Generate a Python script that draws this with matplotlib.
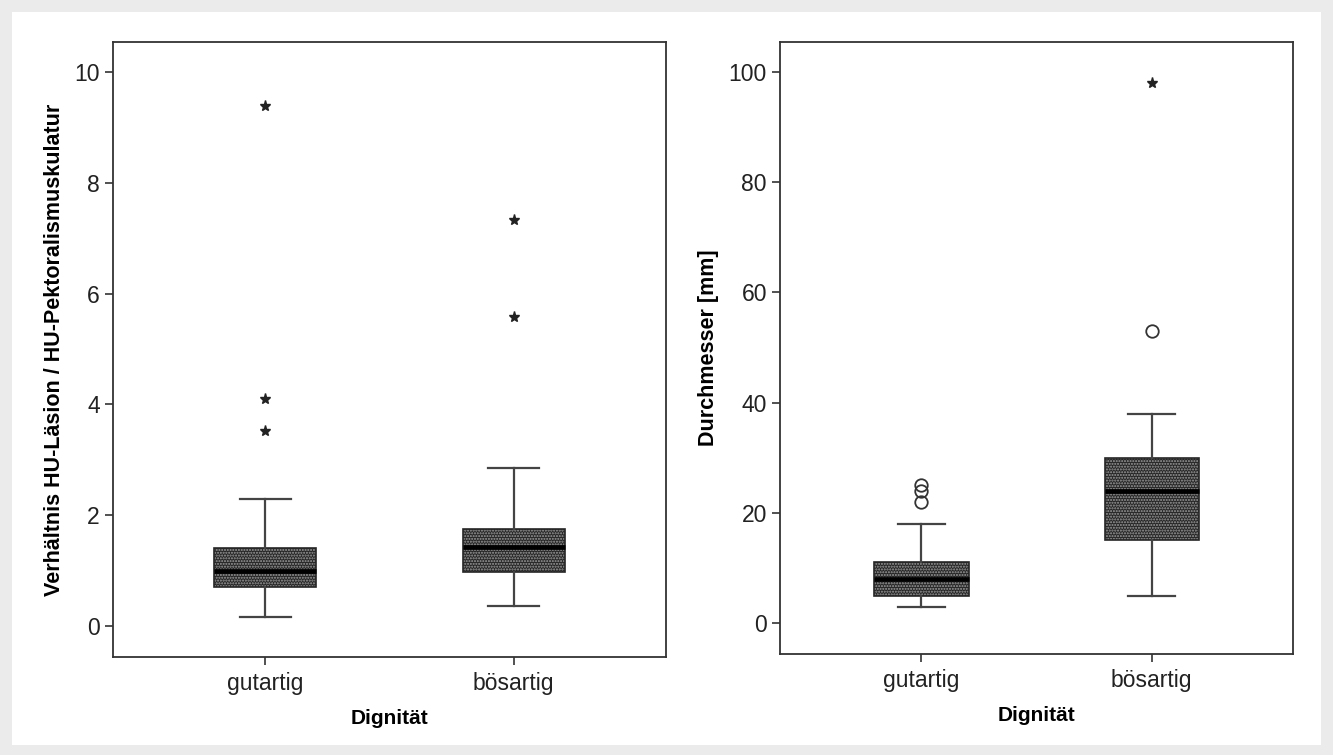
import numpy as np
import matplotlib
matplotlib.use("Agg")
from matplotlib import pyplot as plt
from matplotlib.patches import Rectangle

plt.rcParams['font.family'] = ['Liberation Sans', 'DejaVu Sans']

groups = ["gutartig", "bösartig"]

# left panel: ratio HU lesion / HU pectoralis
ratio_low = [0.17, 0.36]
ratio_q1 = [0.70, 0.97]
ratio_med = [1.00, 1.43]
ratio_q3 = [1.40, 1.75]
ratio_high = [2.29, 2.85]
ratio_circles = [[], []]
ratio_stars = [[9.39, 4.10, 3.52], [7.33, 5.58]]

# right panel: diameter in mm
diam_low = [3, 5]
diam_q1 = [5, 15]
diam_med = [8, 24]
diam_q3 = [11, 30]
diam_high = [18, 38]
diam_circles = [[22, 24, 25], [53]]
diam_stars = [[], [98]]


def draw_panel(ax, low, q1, med, q3, high, circles, stars):
    stats = []
    for i in range(len(groups)):
        stats.append(dict(whislo=low[i], q1=q1[i], med=med[i], q3=q3[i],
                          whishi=high[i], fliers=[], label=groups[i]))
    pos = [1, 2]
    bp = ax.bxp(stats, positions=pos, widths=0.41, patch_artist=True,
                showfliers=False,
                boxprops=dict(facecolor='#262626', edgecolor='#262626',
                              linewidth=1.2, hatch='......'),
                whiskerprops=dict(color='#444444', linewidth=1.6),
                capprops=dict(color='#444444', linewidth=1.6),
                medianprops=dict(color='black', linewidth=3.4))
    for b in bp['boxes']:
        b._hatch_color = (0.62, 0.62, 0.62, 1.0)
    for i, p in enumerate(pos):
        if circles[i]:
            ax.plot([p] * len(circles[i]), circles[i], 'o', mfc='none',
                    mec='#333333', ms=9, mew=1.3)
        if stars[i]:
            ax.plot([p] * len(stars[i]), stars[i], '*', color='#222222', ms=8)
    ax.set_xlim(0.387, 2.613)
    ax.set_xticks(pos)
    ax.set_xticklabels(groups)
    ax.tick_params(axis='both', labelsize=16.5, length=6, width=1.2,
                   color='#333333', labelcolor='#222222', direction='out')
    ax.tick_params(axis='x', pad=5)
    for s in ax.spines.values():
        s.set_color('#333333')
        s.set_linewidth(1.3)
    ax.set_xlabel("Dignität", fontsize=15, fontweight='bold', labelpad=10)


fig = plt.figure(figsize=(13.33, 7.55), dpi=100, facecolor='#ebebeb')
fig.patches.append(Rectangle((12 / 1333, 10 / 755), 1309 / 1333, 733 / 755,
                             transform=fig.transFigure, facecolor='white',
                             edgecolor='none', zorder=-10))

ax1 = fig.add_axes([0.0848, 0.1298, 0.4149, 0.8146])
draw_panel(ax1, ratio_low, ratio_q1, ratio_med, ratio_q3, ratio_high,
           ratio_circles, ratio_stars)
ax1.set_ylim(-0.56, 10.54)
ax1.set_yticks([0, 2, 4, 6, 8, 10])
ax1.set_ylabel("Verhältnis HU-Läsion / HU-Pektoralismuskulatur",
               fontsize=15.5, fontweight='bold', labelpad=7)

ax2 = fig.add_axes([0.5852, 0.1338, 0.3848, 0.8106])
draw_panel(ax2, diam_low, diam_q1, diam_med, diam_q3, diam_high,
           diam_circles, diam_stars)
ax2.set_ylim(-5.6, 105.4)
ax2.set_yticks([0, 20, 40, 60, 80, 100])
ax2.set_ylabel("Durchmesser [mm]", fontsize=15.5, fontweight='bold', labelpad=7)

fig.savefig("out.png", dpi=100, facecolor=fig.get_facecolor())
